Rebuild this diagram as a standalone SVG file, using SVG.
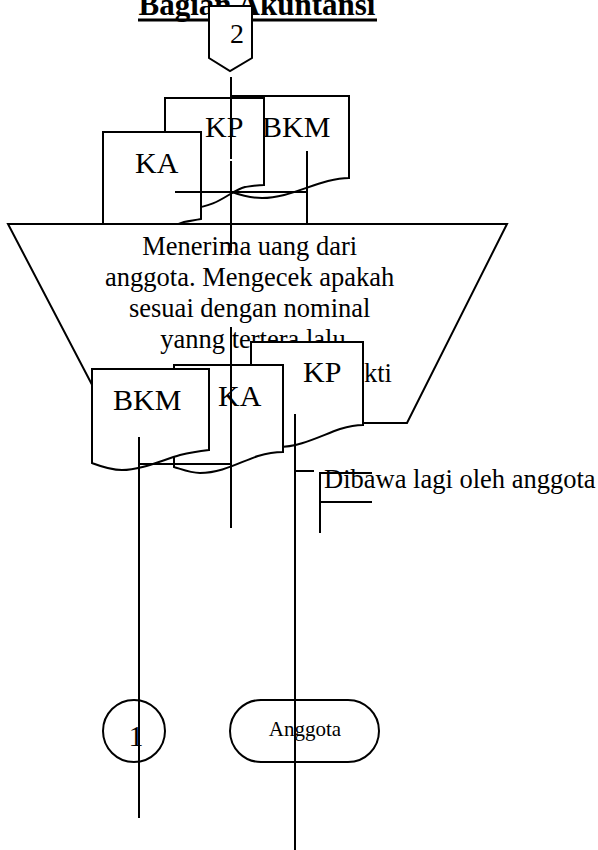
<svg xmlns="http://www.w3.org/2000/svg" width="598" height="850" viewBox="0 0 598 850">
<style>
.s{fill:#fff;stroke:#000;stroke-width:2}
.t{font-family:"Liberation Serif","Times New Roman",serif;fill:#000}
.lbl{font-size:30px}
.body{font-size:26.5px}
.c line{stroke:#000;stroke-width:2}
</style>
<rect width="598" height="850" fill="#fff"/>
<g id="title">
<text class="t" x="257" y="15" text-anchor="middle" font-size="31" font-weight="bold">Bagian Akuntansi</text>
<line x1="138" y1="20" x2="377" y2="20" stroke="#000" stroke-width="3"/>
</g>
<g id="offpage2">
<polygon class="s" points="209,6 252,6 252,58 230,71 209,58"/>
<text class="t" x="237" y="43" text-anchor="middle" font-size="28">2</text>
</g>
<g id="doc-bkm-top">
<path class="s" d="M232,96 H349 V178 C342,178 336,179 328,181 C305,187 285,198 262,198 C250,198 240,195 232,192 Z"/>
<text class="t lbl" x="262" y="137">BKM</text>
</g>
<g id="doc-kp-top">
<path class="s" d="M165,98 H264 V185 C258,185 252,186 245,187 C230,191 218,207 192,208 C182,208 172,205 165,202 Z"/>
<text class="t lbl" x="205" y="137">KP</text>
</g>
<g id="doc-ka-top">
<path class="s" d="M103,132 H201 V219 C195,220 190,221 184,222 C170,226 150,240 128,240 C118,240 110,237 103,234 Z"/>
<text class="t lbl" x="135" y="173">KA</text>
</g>
<g id="manual-op">
<polygon class="s" points="8,224 507,224 407,423 112,423"/>
<text class="t body" text-anchor="middle">
<tspan x="253" y="255">Menerima uang dari</tspan>
<tspan x="253" y="286">anggota. Mengecek apakah</tspan>
<tspan x="253" y="317">sesuai dengan nominal</tspan>
<tspan x="253" y="348">yanng tertera lalu</tspan>
</text>
<text class="t body" x="364" y="382">kti</text>
</g>
<g id="doc-kp-bottom">
<path class="s" d="M251,342 H363 V425 C356,425 350,426 340,429 C320,436 300,447 278,447 C266,447 258,444 251,441 Z"/>
<text class="t lbl" x="303" y="382">KP</text>
</g>
<g id="doc-ka-bottom">
<path class="s" d="M174,365 H283 V452 C276,452 268,453 258,456 C240,462 222,473 200,473 C190,473 181,469 174,467 Z"/>
<text class="t lbl" x="218" y="406">KA</text>
</g>
<g id="doc-bkm-bottom">
<path class="s" d="M92,369 H209 V450 C200,451 192,452 180,455 C160,461 140,470 122,470 C110,470 100,466 92,463 Z"/>
<text class="t lbl" x="113" y="410">BKM</text>
</g>
<g id="annotation">
<text class="t body" x="324" y="488">Dibawa lagi oleh anggota</text>
<path d="M372,473 H320 V533 M320,502 H372" fill="none" stroke="#000" stroke-width="2"/>
</g>
<g id="connector1">
<circle class="s" cx="134" cy="731" r="31"/>
<text class="t" x="136" y="746" text-anchor="middle" font-size="30">1</text>
</g>
<g id="terminator-anggota">
<rect class="s" x="230" y="700" width="149" height="62" rx="31" ry="31"/>
<text class="t" x="305" y="736" text-anchor="middle" font-size="21">Anggota</text>
</g>
<g id="connectors" class="c">
<line x1="231" y1="77" x2="231" y2="159"/>
<line x1="231" y1="161" x2="231" y2="253"/>
<line x1="231" y1="327" x2="231" y2="528"/>
<line x1="175" y1="192" x2="307" y2="192"/>
<line x1="307" y1="151" x2="307" y2="223"/>
<line x1="139" y1="464" x2="231" y2="464"/>
<line x1="139" y1="437" x2="139" y2="818"/>
<line x1="295" y1="414" x2="295" y2="850"/>
<line x1="295" y1="471" x2="314" y2="471"/>
</g>
</svg>
